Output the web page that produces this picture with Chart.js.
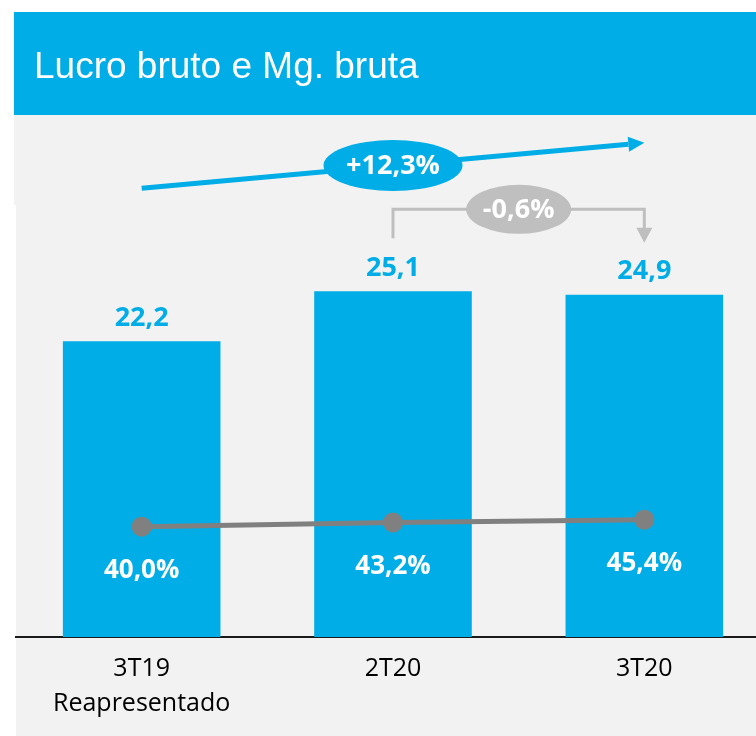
<!DOCTYPE html>
<html>
<head>
<meta charset="utf-8">
<script src="https://cdn.jsdelivr.net/npm/chart.js@4"></script>
<style>
  html, body { margin: 0; padding: 0; background: #ffffff; }
  #wrap { width: 756px; height: 736px; overflow: hidden; position: relative; }
  canvas { display: block; }
</style>
</head>
<body>
<div id="wrap"><canvas id="c" width="780" height="736"></canvas></div>
<script>
// ---- data ----
const categories = [['3T19', 'Reapresentado'], '2T20', '3T20'];
const lucroBruto = [22.2, 25.1, 24.9];      // R$ (bars)
const margemBruta = [40.0, 43.2, 45.4];     // % (line)
const titleText = 'Lucro bruto e Mg. bruta';
const growthYoY = '+12,3%';
const growthQoQ = '-0,6%';

// ---- style ----
const BLUE = '#00ADE6';
const PANEL = '#F2F2F2';
const LINE_GREY = '#808080';
const BRACKET_GREY = '#BFBFBF';

function fmt(v, pct) {
  return v.toFixed(1).replace('.', ',') + (pct ? '%' : '');
}

const backgroundPlugin = {
  id: 'bg',
  beforeDraw(chart) {
    const ctx = chart.ctx;
    ctx.save();
    ctx.fillStyle = '#ffffff';
    ctx.fillRect(0, 0, chart.width, chart.height);
    ctx.fillStyle = PANEL;
    ctx.fillRect(14, 115, chart.width - 14, chart.height - 115);
    ctx.fillStyle = '#ffffff';
    ctx.fillRect(14, 205, 2, chart.height - 205);
    ctx.fillStyle = BLUE;
    ctx.fillRect(14, 12, chart.width - 14, 103);
    ctx.fillStyle = '#ffffff';
    ctx.font = '37px "Liberation Sans", Arial, sans-serif';
    ctx.textBaseline = 'alphabetic';
    ctx.textAlign = 'left';
    ctx.fillText(titleText, 34, 78);
    ctx.restore();
  }
};

function ellipseLabel(ctx, cx, cy, rx, ry, fill, text) {
  ctx.beginPath();
  ctx.ellipse(cx, cy, rx, ry, 0, 0, Math.PI * 2);
  ctx.fillStyle = fill;
  ctx.fill();
  ctx.fillStyle = '#ffffff';
  ctx.font = 'bold 27px "Open Sans", sans-serif';
  ctx.textAlign = 'center';
  ctx.textBaseline = 'middle';
  ctx.fillText(text, cx, cy + 1);
}

const annotPlugin = {
  id: 'annot',
  afterDatasetsDraw(chart) {
    const ctx = chart.ctx;
    const bars = chart.getDatasetMeta(1).data;
    const pts = chart.getDatasetMeta(0).data;
    ctx.save();
    // bar value labels
    ctx.font = 'bold 27px "Open Sans", sans-serif';
    ctx.textAlign = 'center';
    ctx.textBaseline = 'middle';
    ctx.fillStyle = BLUE;
    bars.forEach((b, i) => ctx.fillText(fmt(lucroBruto[i], false), b.x, b.y - 23));
    // margin labels
    ctx.font = 'bold 26px "Open Sans", sans-serif';
    ctx.fillStyle = '#ffffff';
    pts.forEach((p, i) => ctx.fillText(fmt(margemBruta[i], true), p.x, p.y + 44));

    // blue growth arrow (3T19 -> 3T20)
    const x0 = bars[0].x, y0 = bars[0].y - 153;
    const x1 = bars[2].x, y1 = bars[2].y - 152;
    const ang = Math.atan2(y1 - y0, x1 - x0);
    const headL = 16, headW = 15;
    const bx = x1 - headL * Math.cos(ang), by = y1 - headL * Math.sin(ang);
    ctx.strokeStyle = BLUE;
    ctx.lineWidth = 5;
    ctx.beginPath();
    ctx.moveTo(x0, y0);
    ctx.lineTo(bx, by);
    ctx.stroke();
    ctx.fillStyle = BLUE;
    ctx.beginPath();
    ctx.moveTo(x1, y1);
    ctx.lineTo(bx + (headW / 2) * Math.sin(ang), by - (headW / 2) * Math.cos(ang));
    ctx.lineTo(bx - (headW / 2) * Math.sin(ang), by + (headW / 2) * Math.cos(ang));
    ctx.closePath();
    ctx.fill();
    ellipseLabel(ctx, (x0 + x1) / 2, (y0 + y1) / 2, 69.5, 25.5, BLUE, growthYoY);

    // grey bracket (2T20 -> 3T20)
    const gx0 = bars[1].x, gx1 = bars[2].x;
    const gyTop = bars[1].y - 82;
    const gyStart = bars[1].y - 53;
    const gyTip = bars[2].y - 52;
    ctx.strokeStyle = BRACKET_GREY;
    ctx.lineWidth = 3;
    ctx.beginPath();
    ctx.moveTo(gx0, gyStart);
    ctx.lineTo(gx0, gyTop);
    ctx.lineTo(gx1, gyTop);
    ctx.lineTo(gx1, gyTip - 14);
    ctx.stroke();
    ctx.fillStyle = BRACKET_GREY;
    ctx.beginPath();
    ctx.moveTo(gx1, gyTip);
    ctx.lineTo(gx1 - 8, gyTip - 15);
    ctx.lineTo(gx1 + 8, gyTip - 15);
    ctx.closePath();
    ctx.fill();
    ellipseLabel(ctx, (gx0 + gx1) / 2, gyTop, 52.5, 24.5, BRACKET_GREY, growthQoQ);
    ctx.restore();
  }
};

function build() {
  new Chart(document.getElementById('c'), {
    type: 'bar',
    data: {
      labels: categories,
      datasets: [
        {
          type: 'line',
          data: margemBruta,
          yAxisID: 'y1',
          borderColor: LINE_GREY,
          borderWidth: 5,
          pointRadius: 10,
          pointBackgroundColor: LINE_GREY,
          pointBorderWidth: 0,
          tension: 0,
          order: 0
        },
        {
          type: 'bar',
          data: lucroBruto,
          yAxisID: 'y',
          backgroundColor: BLUE,
          barPercentage: 0.627,
          categoryPercentage: 1,
          order: 1
        }
      ]
    },
    options: {
      responsive: false,
      animation: false,
      devicePixelRatio: 1,
      layout: { padding: { top: 121, left: 16, right: 4, bottom: 0 } },
      plugins: { legend: { display: false }, tooltip: { enabled: false } },
      scales: {
        x: {
          grid: { display: false, drawTicks: false },
          border: { display: true, color: '#1a1a1a', width: 2 },
          ticks: {
            color: '#000000',
            font: { family: '"Open Sans", sans-serif', size: 25, lineHeight: 1.38 },
            padding: 15,
            maxRotation: 0
          },
          afterFit(s) { s.height = 99; }
        },
        y: { display: false, min: 5, max: 35 },
        y1: { display: false, min: -45, max: 352.5 }
      }
    },
    plugins: [backgroundPlugin, annotPlugin]
  });
}

const fontLoads = [
  'bold 27px "Open Sans"', '25px "Open Sans"', '37px "Liberation Sans"'
].map(f => document.fonts ? document.fonts.load(f).catch(() => null) : Promise.resolve());
Promise.all(fontLoads).then(build, build);
</script>
</body>
</html>
